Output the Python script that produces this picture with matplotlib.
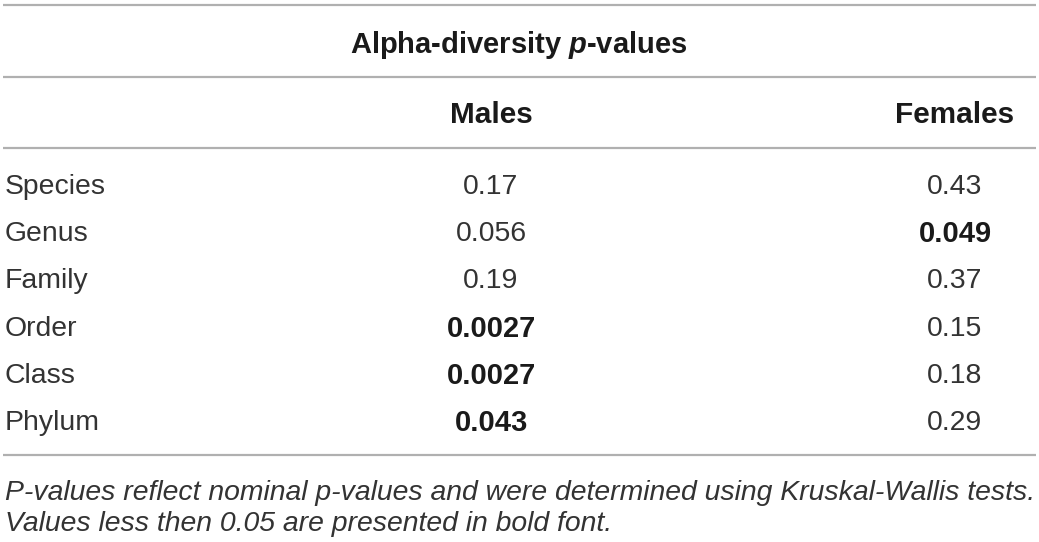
import matplotlib.pyplot as plt

# table contents
title = 'Alpha-diversity $\\bfit{p}$-values'
col_names = ['Males', 'Females']
levels = ['Species', 'Genus', 'Family', 'Order', 'Class', 'Phylum']
males = ['0.17', '0.056', '0.19', '0.0027', '0.0027', '0.043']
females = ['0.43', '0.049', '0.37', '0.15', '0.18', '0.29']
note = ['P-values reflect nominal p-values and were determined using Kruskal-Wallis tests.',
        'Values less then 0.05 are presented in bold font.']

plt.rcParams['font.family'] = ['Liberation Sans', 'DejaVu Sans']
plt.rcParams['mathtext.fontset'] = 'custom'
plt.rcParams['mathtext.bfit'] = 'Liberation Sans:bold:italic'

W, H = 1039, 542
fig = plt.figure(figsize=(W / 100, H / 100), dpi=100)
ax = fig.add_axes([0, 0, 1, 1])
ax.set_xlim(0, W)
ax.set_ylim(H, 0)
ax.axis('off')

fs = 20.4
fs_b = 21
txt = '#333333'
bold_c = '#1a1a1a'
rule = '#b0b0b0'
dy = 3  # va='center' sits a bit high vs the reference baseline

for y in [5, 77, 148, 455]:
    ax.plot([3, 1036], [y, y], color=rule, lw=1.6, solid_capstyle='butt')

ax.text(519, 42 + dy, title, ha='center', va='center', fontsize=fs_b, fontweight='bold', color=bold_c)
col_x = [491, 955]
for x, name in zip(col_x, col_names):
    ax.text(x, 112 + dy, name, ha='center', va='center', fontsize=fs_b + 0.4, fontweight='bold', color=bold_c)

row_y = [184, 231, 278, 326, 373, 420]
for y, lev, m, f in zip(row_y, levels, males, females):
    ax.text(5, y + dy, lev, ha='left', va='center', fontsize=fs, color=txt)
    for x, v in zip(col_x, [m, f]):
        b = float(v) < 0.05
        ax.text(x, y + dy, v, ha='center', va='center',
                fontsize=fs_b if b else fs,
                fontweight='bold' if b else 'normal', color=bold_c if b else txt)

for i, line in enumerate(note):
    ax.text(5, 490 + dy + 31 * i, line, ha='left', va='center', fontsize=fs,
            fontstyle='italic', color=txt)

fig.savefig('out.png', dpi=100)
